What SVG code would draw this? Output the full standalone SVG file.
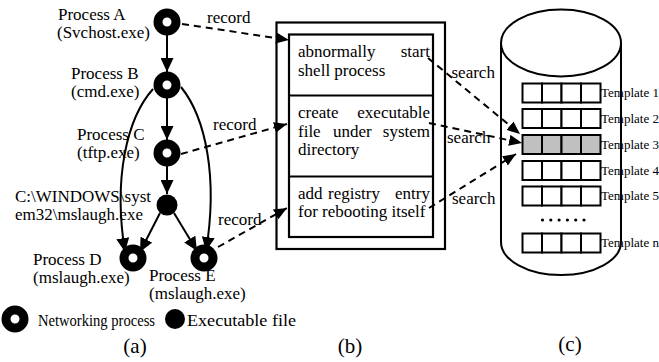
<svg xmlns="http://www.w3.org/2000/svg" width="659" height="362" viewBox="0 0 659 362" font-family="'Liberation Serif', 'Times New Roman', 'DejaVu Serif', serif">
<defs>
<style>
text{font-family:'Liberation Serif','Times New Roman','DejaVu Serif',serif;fill:#000}
.t17{font-size:17px}
.t13{font-size:13px}
.cap{font-size:21px}
.ring{fill:#fff;stroke:#000;stroke-width:9}
.dot{fill:#000}
.solid{fill:none;stroke:#000;stroke-width:2}
.dash{fill:none;stroke:#000;stroke-width:2;stroke-dasharray:7 5}
.box{fill:#fff;stroke:#000;stroke-width:2.2}
.cell{fill:#fff;stroke:#000;stroke-width:2}
.gray{fill:#c0c0c0;stroke:#000;stroke-width:2}
</style>
<marker id="ah" viewBox="0 0 14 13" refX="14" refY="6.5" markerWidth="14" markerHeight="13" markerUnits="userSpaceOnUse" orient="auto"><path d="M0,0 L14,6.5 L0,13 z" fill="#000"/></marker>
<marker id="ah2" viewBox="0 0 13 11" refX="13" refY="5.5" markerWidth="13" markerHeight="11" markerUnits="userSpaceOnUse" orient="auto"><path d="M0,0 L13,5.5 L0,11 z" fill="#000"/></marker>
</defs>
<rect width="659" height="362" fill="#fff"/>

<g id="panelB">
<rect class="box" x="276.5" y="22.5" width="168.5" height="226.5"/>
<rect class="box" x="289" y="34.5" width="144" height="202.5"/>
<line class="solid" x1="289" y1="95.5" x2="433" y2="95.5"/>
<line class="solid" x1="289" y1="176.5" x2="433" y2="176.5"/>
</g>
<g id="b1">
<text class="t17" x="298" y="57">abnormally</text>
<text class="t17" x="430" y="57" text-anchor="end">start</text>
<text class="t17" x="298" y="76">shell process</text>
</g>
<g id="b2">
<text class="t17" x="298" y="118">create</text>
<text class="t17" x="430" y="118" text-anchor="end">executable</text>
<text class="t17" x="298" y="137">file</text>
<text class="t17" x="333" y="137">under</text>
<text class="t17" x="430" y="137" text-anchor="end">system</text>
<text class="t17" x="298" y="155">directory</text>
</g>
<g id="b3">
<text class="t17" x="298" y="199">add</text>
<text class="t17" x="328" y="199">registry</text>
<text class="t17" x="430" y="199" text-anchor="end">entry</text>
<text class="t17" x="298" y="217">for rebooting itself</text>
</g>

<g id="database">
<path class="solid" d="M501,43 L501,242 A60,33 0 0 0 621,242 L621,43"/>
<ellipse class="solid" cx="561" cy="43" rx="60" ry="33.5"/>
</g>
<g id="tpl1"><rect class="cell" x="522.5" y="83.5" width="19.5" height="19"/><rect class="cell" x="542" y="83.5" width="19.5" height="19"/><rect class="cell" x="561.5" y="83.5" width="19.5" height="19"/><rect class="cell" x="581" y="83.5" width="19.5" height="19"/><text class="t13" x="601" y="97">Template 1</text></g>
<g id="tpl2"><rect class="cell" x="522.5" y="109" width="19.5" height="19"/><rect class="cell" x="542" y="109" width="19.5" height="19"/><rect class="cell" x="561.5" y="109" width="19.5" height="19"/><rect class="cell" x="581" y="109" width="19.5" height="19"/><text class="t13" x="601" y="122.5">Template 2</text></g>
<g id="tpl3"><rect class="gray" x="522.5" y="135" width="19.5" height="19"/><rect class="gray" x="542" y="135" width="19.5" height="19"/><rect class="gray" x="561.5" y="135" width="19.5" height="19"/><rect class="gray" x="581" y="135" width="19.5" height="19"/><text class="t13" x="601" y="148.5">Template 3</text></g>
<g id="tpl4"><rect class="cell" x="522.5" y="161" width="19.5" height="19"/><rect class="cell" x="542" y="161" width="19.5" height="19"/><rect class="cell" x="561.5" y="161" width="19.5" height="19"/><rect class="cell" x="581" y="161" width="19.5" height="19"/><text class="t13" x="601" y="174.5">Template 4</text></g>
<g id="tpl5"><rect class="cell" x="522.5" y="186.5" width="19.5" height="19"/><rect class="cell" x="542" y="186.5" width="19.5" height="19"/><rect class="cell" x="561.5" y="186.5" width="19.5" height="19"/><rect class="cell" x="581" y="186.5" width="19.5" height="19"/><text class="t13" x="601" y="200">Template 5</text></g>
<g id="dots"><circle cx="542.5" cy="220" r="1.6"/><circle cx="550.8" cy="220" r="1.6"/><circle cx="559.1" cy="220" r="1.6"/><circle cx="567.4" cy="220" r="1.6"/><circle cx="575.7" cy="220" r="1.6"/><circle cx="584" cy="220" r="1.6"/></g>
<g id="tplN"><rect class="cell" x="522.5" y="233.5" width="19.5" height="19"/><rect class="cell" x="542" y="233.5" width="19.5" height="19"/><rect class="cell" x="561.5" y="233.5" width="19.5" height="19"/><rect class="cell" x="581" y="233.5" width="19.5" height="19"/><text class="t13" x="601" y="247">Template n</text></g>

<g id="connectors">
<line class="solid" x1="167" y1="34" x2="167" y2="72" marker-end="url(#ah)"/>
<line class="solid" x1="167" y1="97" x2="167" y2="140" marker-end="url(#ah)"/>
<line class="solid" x1="167" y1="165" x2="167" y2="194" marker-end="url(#ah)"/>
<line class="solid" x1="160" y1="213" x2="140" y2="252" marker-end="url(#ah)"/>
<line class="solid" x1="174" y1="213" x2="197" y2="251" marker-end="url(#ah)"/>
<path class="solid" d="M153,89 C127,118 113,178 125,252" marker-end="url(#ah)"/>
<path class="solid" d="M181,87 C206,118 218,178 206,251" marker-end="url(#ah)"/>
<line class="dash" x1="182" y1="24" x2="289" y2="40" marker-end="url(#ah2)"/>
<line class="dash" x1="181" y1="154" x2="287" y2="124" marker-end="url(#ah2)"/>
<line class="dash" x1="218" y1="247" x2="287" y2="208" marker-end="url(#ah2)"/>
<line class="dash" x1="428" y1="58" x2="520" y2="134" marker-end="url(#ah2)"/>
<line class="dash" x1="429" y1="123" x2="522" y2="143" marker-end="url(#ah2)"/>
<line class="dash" x1="429" y1="208" x2="516" y2="154" marker-end="url(#ah2)"/>
<text class="t17" x="207" y="23">record</text>
<text class="t17" x="213" y="130">record</text>
<text class="t17" x="218" y="225">record</text>
<text class="t17" x="451.5" y="78">search</text>
<text class="t17" x="447" y="143">search</text>
<text class="t17" x="452" y="204">search</text>
</g>

<g id="nodeA"><circle class="ring" cx="167" cy="22" r="9"/><text class="t17" x="58" y="20">Process A</text><text class="t17" x="57" y="38">(Svchost.exe)</text></g>
<g id="nodeB"><circle class="ring" cx="167" cy="85" r="9"/><text class="t17" x="71" y="79">Process B</text><text class="t17" x="71" y="97">(cmd.exe)</text></g>
<g id="nodeC"><circle class="ring" cx="167" cy="153" r="9"/><text class="t17" x="77" y="140">Process C</text><text class="t17" x="77" y="158">(tftp.exe)</text></g>
<g id="fileNode"><circle class="dot" cx="167" cy="205" r="10.5"/><text class="t17" x="15" y="202">C:\WINDOWS\syst</text><text class="t17" x="15" y="220">em32\mslaugh.exe</text></g>
<g id="nodeD"><circle class="ring" cx="133" cy="258" r="9"/><text class="t17" x="33" y="265">Process D</text><text class="t17" x="33" y="283">(mslaugh.exe)</text></g>
<g id="nodeE"><circle class="ring" cx="204" cy="258" r="9"/><text class="t17" x="149" y="281">Process E</text><text class="t17" x="149" y="299">(mslaugh.exe)</text></g>

<g id="legend">
<circle class="ring" cx="15" cy="319" r="9"/>
<text x="38" y="326" font-size="16" textLength="117" lengthAdjust="spacingAndGlyphs">Networking process</text>
<circle class="dot" cx="175" cy="319" r="10"/>
<text x="187" y="326" font-size="16" textLength="109" lengthAdjust="spacingAndGlyphs">Executable file</text>
</g>

<g id="captions">
<text class="cap" x="135" y="353" text-anchor="middle">(a)</text>
<text class="cap" x="350" y="353" text-anchor="middle">(b)</text>
<text class="cap" x="570" y="351" text-anchor="middle">(c)</text>
</g>
</svg>
